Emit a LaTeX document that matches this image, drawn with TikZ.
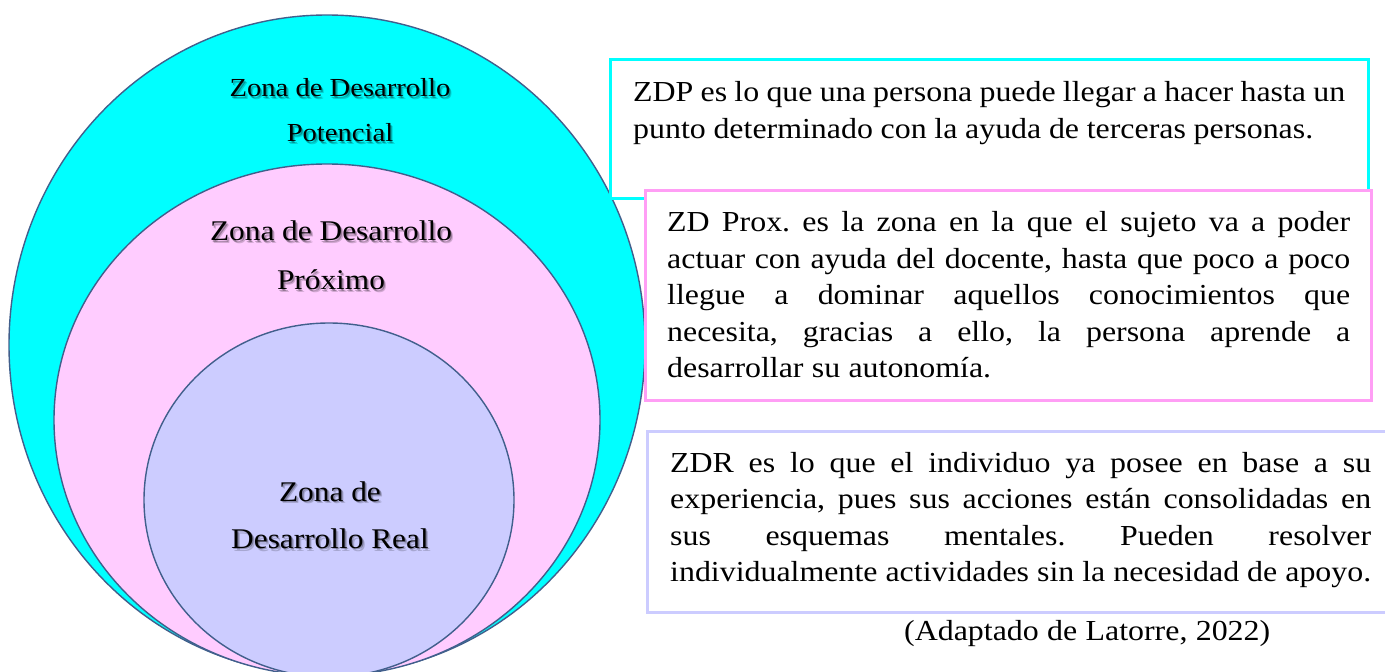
\documentclass[tikz,border=0pt]{standalone}
\usepackage{fontspec}
\setmainfont[FakeStretch=1.1]{Liberation Serif}
\usetikzlibrary{calc}
\frenchspacing
\definecolor{elline}{RGB}{65,95,140}
\definecolor{zcyan}{RGB}{0,255,255}
\definecolor{zpink}{RGB}{255,204,255}
\definecolor{zlav}{RGB}{204,204,255}
\definecolor{pinkline}{RGB}{255,158,245}
\definecolor{lavline}{RGB}{204,204,255}
\tikzset{
  zone/.style={draw=elline, line width=1.4pt},
  boxline/.style={line width=3pt},
  txt/.style={inner sep=0pt, anchor=base west, font=\fontsize{29}{34}\selectfont},
  lbl/.style={inner sep=0pt, anchor=base},
}
\newcommand{\zlabel}[4]{%
  \node[lbl, text=black, opacity=0.18, font=\fontsize{#3}{#3}\selectfont] at ($(#2)+(2.4,2.4)$) {#4};
  \node[lbl, text=black, opacity=0.28, font=\fontsize{#3}{#3}\selectfont] at ($(#2)+(1.3,1.3)$) {#4};
  \node[lbl, text=black, font=\fontsize{#3}{#3}\selectfont] (#1) at (#2) {#4};}
\begin{document}
\begin{tikzpicture}[x=1pt,y=-1pt]
\useasboundingbox (0,0) rectangle (1385,672);
\clip (0,0) rectangle (1385,672);
\fill[white] (0,0) rectangle (1385,672);
% zones
\draw[zone, fill=zcyan] (327,345) ellipse [x radius=318, y radius=330];
\draw[zone, fill=zpink] (327,420) ellipse [x radius=273, y radius=256];
\draw[zone, fill=zlav] (329,500) ellipse [x radius=185, y radius=177];
% zone labels
\coordinate (l1a) at (340,96.7);
\coordinate (l1b) at (340,141.7);
\coordinate (l2a) at (331,240.7);
\coordinate (l2b) at (331,289.7);
\coordinate (l3a) at (330,501);
\coordinate (l3b) at (330,548.6);
\zlabel{za1}{l1a}{26}{Zona de Desarrollo}
\zlabel{za2}{l1b}{26}{Potencial}
\zlabel{zb1}{l2a}{28.5}{Zona de Desarrollo}
\zlabel{zb2}{l2b}{28.5}{Próximo}
\zlabel{zc1}{l3a}{28.5}{Zona de}
\zlabel{zc2}{l3b}{28.5}{Desarrollo Real}
% boxes
\draw[boxline, draw=zcyan] (610,59) rectangle (1368,198);
\draw[boxline, draw=pinkline, fill=white] (645,190) rectangle (1371,400);
\draw[boxline, draw=lavline] (647,431) rectangle (1400,612);
% ZDP text
\node[txt] (p1) at (633,101) {\makebox[712pt][s]{ZDP es lo que una persona puede llegar a hacer hasta un}};
\node[txt] (p2) at (633,138) {\makebox[680pt][s]{punto determinado con la ayuda de terceras personas.}};
% ZD Prox text
\node[txt] (q1) at (667,231.5) {\makebox[683pt][s]{ZD Prox. es la zona en la que el sujeto va a poder}};
\node[txt] (q2) at (667,268) {\makebox[683pt][s]{actuar con ayuda del docente, hasta que poco a poco}};
\node[txt] (q3) at (667,304.5) {\makebox[683pt][s]{llegue a dominar aquellos conocimientos que}};
\node[txt] (q4) at (667,341) {\makebox[683pt][s]{necesita, gracias a ello, la persona aprende a}};
\node[txt] (q5) at (667,377.5) {\makebox[324pt][s]{desarrollar su autonomía.}};
% ZDR text
\node[txt] (r1) at (670,472) {\makebox[701pt][s]{ZDR es lo que el individuo ya posee en base a su}};
\node[txt] (r2) at (670,508.5) {\makebox[701pt][s]{experiencia, pues sus acciones están consolidadas en}};
\node[txt] (r3) at (670,545) {\makebox[701pt][s]{sus esquemas mentales. Pueden resolver}};
\node[txt] (r4) at (670,581.5) {\makebox[701pt][s]{individualmente actividades sin la necesidad de apoyo.}};
% citation
\node[txt] (cit) at (904,640) {\makebox[366pt][s]{(Adaptado de Latorre, 2022)}};
\end{tikzpicture}
\end{document}
